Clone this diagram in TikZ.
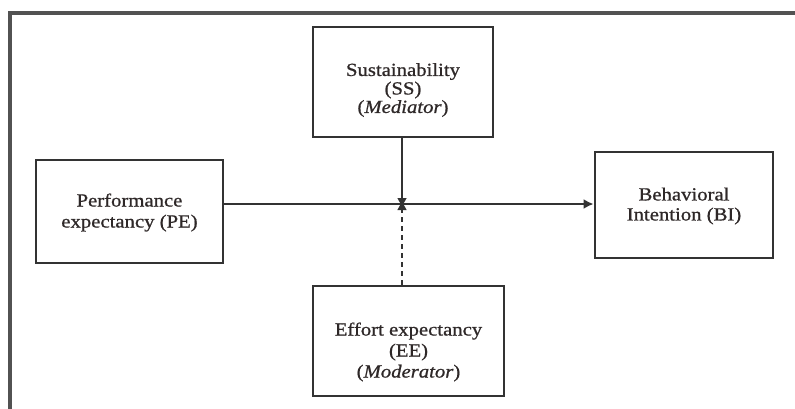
\documentclass[tikz,border=0pt]{standalone}
\usepackage{fontspec}
\setmainfont{Liberation Serif}[FakeStretch=1.12, FakeBold=0.8]
\usetikzlibrary{arrows.meta,calc}
\definecolor{ink}{HTML}{333333}
\definecolor{txt}{HTML}{2E2828}
\tikzset{
  box/.style={draw=ink, line width=2.8pt, fill=white, inner sep=0pt},
  caption/.style={align=center, inner sep=0pt, text=txt,
    font=\fontsize{18.5}{21}\selectfont},
  link/.style={draw=ink, line width=2pt},
  tip/.style={-{Latex[length=10pt,width=10pt]}},
}
\begin{document}
\begin{tikzpicture}[x=1pt,y=-1pt]
  \useasboundingbox (0,0) rectangle (795,408);
  % open frame (top and left edges only)
  \draw[draw=ink!85, line width=4pt] (9.5,420) -- (9.5,12.5) -- (810,12.5);

  % construct boxes
  \node[box, minimum width=187pt, minimum height=103pt] (pe) at (129.5,211.5) {};
  \node[box, minimum width=180pt, minimum height=110pt] (ss) at (403,82) {};
  \node[box, minimum width=178pt, minimum height=106pt] (bi) at (684,205) {};
  \node[box, minimum width=191pt, minimum height=110pt] (ee) at (408.5,341) {};

  % construct labels (y grows downwards here, so a downward shift is +y)
  \node[caption] (pe-text) at ($(pe.center)+(0,1)$) {Performance\\expectancy (PE)};
  \node[caption, font=\fontsize{18.5}{18.5}\selectfont] (ss-text) at ($(ss.center)+(0,8)$)
    {Sustainability\\(SS)\\(\textit{Mediator})};
  \node[caption, font=\fontsize{18.5}{20}\selectfont] (bi-text) at ($(bi.center)+(0,1)$)
    {Behavioral\\Intention (BI)};
  \node[caption] (ee-text) at ($(ee.center)+(0,11)$)
    {Effort expectancy\\(EE)\\(\textit{Moderator})};

  % paths: the two vertical arrows meet the main path at (402,204)
  \coordinate (hit) at (402,204);
  \coordinate (hit-above) at (402,208);
  \coordinate (hit-below) at (402,200);
  \draw[link, tip] (pe.east |- hit) -- (bi.west |- hit);
  \draw[link, tip] (ss.south -| hit) -- (hit-above);
  \draw[link, tip, dash pattern=on 5pt off 4pt] (ee.north -| hit) -- (hit-below);
\end{tikzpicture}
\end{document}
